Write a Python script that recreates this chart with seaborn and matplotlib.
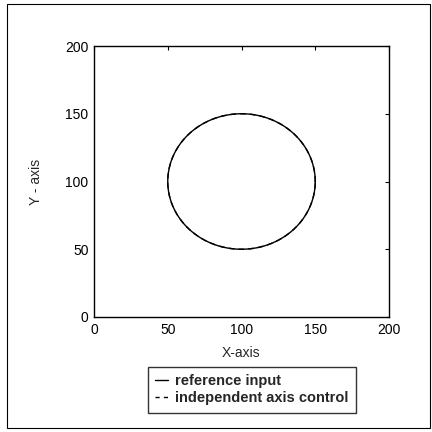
import numpy as np
import pandas as pd
import matplotlib
matplotlib.use("Agg")
import matplotlib.pyplot as plt
import seaborn as sns
from matplotlib.patches import Rectangle
from matplotlib.lines import Line2D

# Data: circular path (centre, radius) for both series
center_x = [100.0, 100.0]
center_y = [100.0, 100.0]
radius = [50.0, 50.0]
series_names = ["reference input", "independent axis control"]
x_ticks = [0, 50, 100, 150, 200]
y_ticks = [0, 50, 100, 150, 200]

theta = np.linspace(0, 2 * np.pi, 361)
frames = []
for name, cx, cy, r in zip(series_names, center_x, center_y, radius):
    frames.append(pd.DataFrame({"x": cx + r * np.cos(theta),
                                "y": cy + r * np.sin(theta),
                                "series": name}))
df = pd.concat(frames, ignore_index=True)

sns.set_style("white")
plt.rcParams["font.family"] = ["Liberation Sans", "DejaVu Sans"]

fig = plt.figure(figsize=(4.32, 4.32), dpi=100)
ax = fig.add_axes([94/432, 1-317/432, 295/432, 271/432])

sns.lineplot(data=df, x="x", y="y", hue="series", style="series",
             sort=False, estimator=None,
             palette=["black", "black"],
             dashes={"reference input": "", "independent axis control": (4, 3)},
             linewidth=1.0, ax=ax, legend=False)

ax.set_xlim(0, 200)
ax.set_ylim(0, 200)
ax.set_xticks(x_ticks)
ax.set_yticks(y_ticks)
ax.tick_params(direction="in", length=3, width=0.8, top=True, right=True,
               labelsize=10, pad=4, colors="black")
for s in ax.spines.values():
    s.set_visible(True)
    s.set_color("black")
    s.set_linewidth(1.0)
ax.set_xlabel("X-axis", fontsize=10, labelpad=7)
ax.set_ylabel("Y - axis", fontsize=10, labelpad=16)

handles = [Line2D([], [], color="black", lw=1.0, ls="-"),
           Line2D([], [], color="black", lw=1.0, ls=(0, (3, 3)))]
leg = fig.legend(handles, series_names, loc="upper left",
                 bbox_to_anchor=(148/432, 1-367/432),
                 prop={"family": ["Liberation Sans", "DejaVu Sans"],
                       "weight": "bold", "size": 10.5},
                 frameon=True, fancybox=False, handlelength=0.9,
                 handletextpad=0.45, borderpad=0.5, labelspacing=0.2,
                 borderaxespad=0)
leg.get_frame().set_edgecolor("black")
leg.get_frame().set_linewidth(1.0)

fig.patches.append(Rectangle((7/432, 4/432), 423/432, 424/432,
                             transform=fig.transFigure, fill=False,
                             edgecolor="black", linewidth=0.8))

fig.savefig("out.png", dpi=100)
